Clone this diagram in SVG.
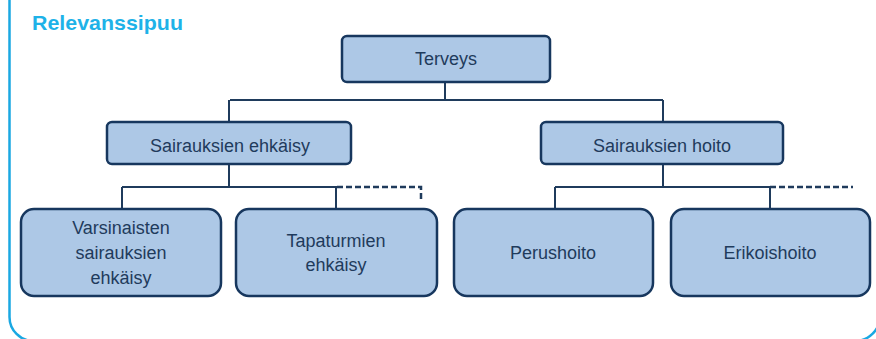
<svg xmlns="http://www.w3.org/2000/svg" width="876" height="339" viewBox="0 0 876 339">
<style>
.box{fill:#adc8e6;stroke:#17375e;stroke-width:2.5}
.lbl{font-family:"Liberation Sans",Arial,sans-serif;font-size:18px;fill:#1f3b5c;text-anchor:middle}
.ln{fill:none;stroke:#1f3b5c;stroke-width:2}
.dash{fill:none;stroke:#1f3b5c;stroke-width:2.5;stroke-dasharray:6 3}
</style>
<rect x="0" y="0" width="876" height="339" fill="#ffffff"/>
<path d="M9.5 0 V317 A24 24 0 0 0 33.5 341 H855 A25 25 0 0 0 880 316" fill="none" stroke="#1aa8e2" stroke-width="2.5"/>
<text x="32" y="30" font-family="'Liberation Sans',Arial,sans-serif" font-weight="bold" font-size="21" fill="#1eb2e8" textLength="151" lengthAdjust="spacingAndGlyphs">Relevanssipuu</text>
<g id="connectors">
<path class="ln" d="M445 82 V100 M230 100 H663 M229 100 V122 M663 100 V122"/>
<path class="ln" d="M229 164 V187 M122 187 H337 M122 187 V209 M336 187 V209"/>
<path class="ln" d="M663 164 V187 M555 187 H770 M555 187 V209"/>
<path class="ln" d="M770 187 V209" stroke-width="1.5"/>
<path class="dash" d="M337 187 H421 V199"/>
<path class="dash" d="M770 187 H853"/>
</g>
<g id="n-terveys"><rect class="box" x="342" y="36" width="208" height="46" rx="5"/><text class="lbl" x="446" y="65">Terveys</text></g>
<g id="n-ehkaisy"><rect class="box" x="107" y="122" width="244" height="42" rx="5"/><text class="lbl" x="230" y="152">Sairauksien ehkäisy</text></g>
<g id="n-hoito"><rect class="box" x="541" y="122" width="242" height="42" rx="5"/><text class="lbl" x="662" y="152">Sairauksien hoito</text></g>
<g id="n-varsinaisten"><rect class="box" x="21" y="209" width="200" height="87" rx="13"/><text class="lbl" x="121" y="234">Varsinaisten</text><text class="lbl" x="121" y="259">sairauksien</text><text class="lbl" x="121" y="284">ehkäisy</text></g>
<g id="n-tapaturmien"><rect class="box" x="236" y="209" width="201" height="87" rx="13"/><text class="lbl" x="336" y="247">Tapaturmien</text><text class="lbl" x="336" y="271">ehkäisy</text></g>
<g id="n-perushoito"><rect class="box" x="454" y="209" width="199" height="87" rx="13"/><text class="lbl" x="553" y="259">Perushoito</text></g>
<g id="n-erikoishoito"><rect class="box" x="671" y="209" width="199" height="87" rx="13"/><text class="lbl" x="770" y="259">Erikoishoito</text></g>
</svg>
